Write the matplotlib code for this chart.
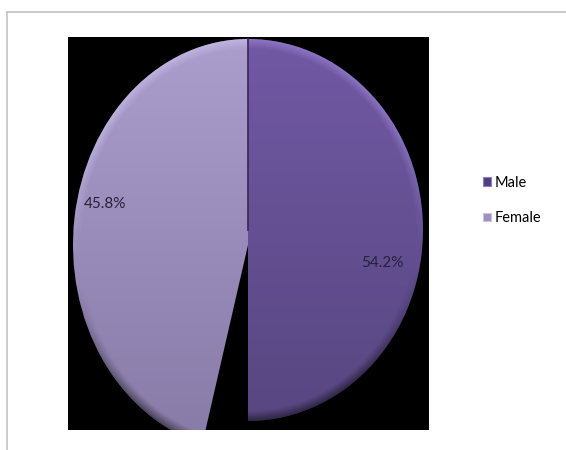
import numpy as np
import matplotlib
matplotlib.use("Agg")
import matplotlib.pyplot as plt
from matplotlib.colors import LinearSegmentedColormap, to_rgb
from matplotlib.patches import Patch
from matplotlib.lines import Line2D
from matplotlib.transforms import Affine2D

plt.rcParams['font.family'] = ['Lato', 'DejaVu Sans']

# Gender split
categories = ["Male", "Female"]
shares = [54.2, 45.8]
label_texts = ["54.2%", "45.8%"]

male_top, male_bottom = "#7159a4", "#574680"
female_top, female_bottom = "#ab9dcc", "#8a7ca9"
legend_colors = ["#4f3e7c", "#9c90c3"]

fig = plt.figure(figsize=(5.66, 4.5), dpi=100)
fig.patch.set_facecolor("white")

# outer chart frame (top and left edges)
fig.add_artist(Line2D([7 / 566, 1.0], [1 - 12 / 450, 1 - 12 / 450],
                      transform=fig.transFigure, color="#c4c4c4", lw=1.2))
fig.add_artist(Line2D([7 / 566, 7 / 566], [0, 1 - 12 / 450],
                      transform=fig.transFigure, color="#c4c4c4", lw=1.2))

ax = fig.add_axes([68 / 566, 20 / 450, 361 / 566, 393 / 450])

wedges, texts, autotexts = ax.pie(
    shares, colors=[male_top, female_top], startangle=90, counterclock=False,
    autopct="%1.1f%%", pctdistance=0.8, radius=1.0,
    wedgeprops=dict(linewidth=0),
    textprops=dict(fontsize=11, color="#25213a"))

ax.set_frame_on(True)
ax.set_facecolor("black")
for s in ax.spines.values():
    s.set_visible(False)
ax.set_xticks([])
ax.set_yticks([])
ax.set_aspect("auto")

xlim = (-180 / 175, 181 / 175)
ylim = (-200 / 191, 193 / 191)

# the female slice sits slightly lower and taller (tilted pie look)
stretch = 1.0785
shift = 1 - stretch
wedges[1].set_transform(Affine2D().scale(1, stretch).translate(0, shift)
                        + ax.transData)

for w in wedges:
    w.set_alpha(0)

grad = np.linspace(0, 1, 256).reshape(-1, 1)
male_cmap = LinearSegmentedColormap.from_list("m", [male_top, male_bottom])
female_cmap = LinearSegmentedColormap.from_list("f", [female_top, female_bottom])

# male face: right half of its wedge only
im_m = ax.imshow(grad, cmap=male_cmap, extent=(0, xlim[1], ylim[0], 1.0),
                 origin="upper", aspect="auto", zorder=2, interpolation="bilinear")
im_m.set_clip_path(wedges[0])
im_f = ax.imshow(grad, cmap=female_cmap, extent=(xlim[0], 0.02, ylim[0], 1.0),
                 origin="upper", aspect="auto", zorder=2, interpolation="bilinear")
im_f.set_clip_path(wedges[1])


def bevel(x0, x1, yscale, yshift, glow):
    """Light rim along the upper arc, dark shading along the lower arc."""
    nx, ny = 500, 560
    gx = np.linspace(x0, x1, nx)
    gy = np.linspace(ylim[1], ylim[0], ny)
    X, Y = np.meshgrid(gx, gy)
    Yn = (Y - yshift) / yscale
    r = np.sqrt(X ** 2 + Yn ** 2)
    band = np.clip((r - 0.95) / 0.05, 0, 1)
    up = np.clip((Yn + 0.1) / 0.6, 0, 1)
    down = np.clip((-Yn - 0.2) / 0.6, 0, 1)
    rgba = np.zeros((ny, nx, 4))
    light = np.array(to_rgb(glow))
    dark_a = 0.45 * band * down
    light_a = 0.55 * band * up
    a = light_a + dark_a
    rgb = (light * light_a[..., None]) / np.maximum(a[..., None], 1e-9)
    rgba[..., :3] = np.clip(rgb, 0, 1)
    rgba[..., 3] = np.clip(a, 0, 1)
    return rgba


im_bm = ax.imshow(bevel(0, xlim[1], 1.0, 0.0, "#a58ce0"),
                  extent=(0, xlim[1], *ylim),
                  aspect="auto", zorder=3, interpolation="bilinear")
im_bm.set_clip_path(wedges[0])
im_bf = ax.imshow(bevel(xlim[0], 0.02, stretch, shift, "#d2c6f0"),
                  extent=(xlim[0], 0.02, *ylim),
                  aspect="auto", zorder=3, interpolation="bilinear")
im_bf.set_clip_path(wedges[1])

# divider between the slices
ax.plot([0, 0], [0, 1.0], color="#3a2e5c", lw=1.3, zorder=4)

# value labels
label_pos = [(0.766, -0.173), (-0.817, 0.136)]
for t, txt, pos in zip(autotexts, label_texts, label_pos):
    t.set_text(txt)
    t.set_position(pos)
    t.set_zorder(5)

ax.set_xlim(*xlim)
ax.set_ylim(*ylim)

handles = [Patch(facecolor=legend_colors[0], edgecolor="#8e7fc0", lw=0.8),
           Patch(facecolor=legend_colors[1], edgecolor="#cbc3e3", lw=0.8)]
fig.legend(handles, categories, loc="center left",
           bbox_to_anchor=(483 / 566, 1 - 200.5 / 450),
           bbox_transform=fig.transFigure, frameon=False, fontsize=10.5,
           handlelength=0.55, handleheight=0.55, handletextpad=0.25,
           labelspacing=1.45, borderpad=0, borderaxespad=0)

fig.savefig("out.png", dpi=100, facecolor="white")
